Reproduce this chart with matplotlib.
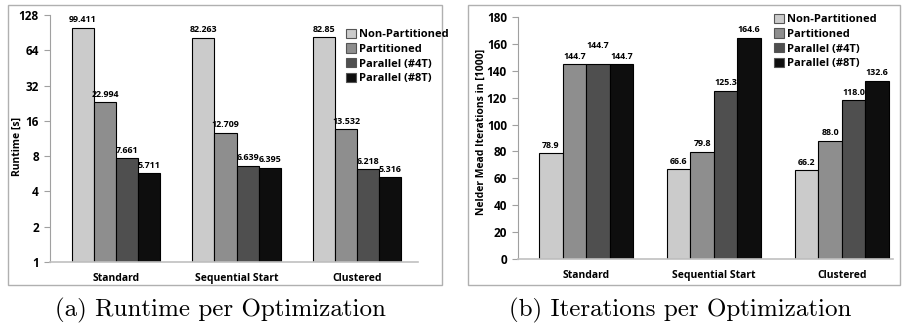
import matplotlib
matplotlib.use("Agg")
import matplotlib.pyplot as plt
from matplotlib.patches import Rectangle, Patch
import numpy as np

categories = ["Standard", "Sequential Start", "Clustered"]
series = ["Non-Partitioned", "Partitioned", "Parallel (#4T)", "Parallel (#8T)"]
runtime = [
    [99.411, 82.263, 82.85],
    [22.994, 12.709, 13.532],
    [7.661, 6.639, 6.218],
    [5.711, 6.395, 5.316],
]
runtime_labels = [
    ["99.411", "82.263", "82.85"],
    ["22.994", "12.709", "13.532"],
    ["7.661", "6.639", "6.218"],
    ["5.711", "6.395", "5.316"],
]
iterations = [
    [78.9, 66.6, 66.2],
    [144.7, 79.8, 88.0],
    [144.7, 125.3, 118.0],
    [144.7, 164.6, 132.6],
]
runtime_ticks = [1, 2, 4, 8, 16, 32, 64, 128]
iter_ticks = [0, 20, 40, 60, 80, 100, 120, 140, 160, 180]
colors = ["#cbcbcb", "#8e8e8e", "#4f4f4f", "#0e0e0e"]

plt.rcParams['font.family'] = ['Open Sans', 'DejaVu Sans']
plt.rcParams['font.weight'] = 'bold'

W, H = 903, 323
fig = plt.figure(figsize=(W / 100, H / 100), dpi=100)

def ax_rect(x0, x1, ytop, ybot):
    return [x0 / W, 1 - ybot / H, (x1 - x0) / W, (ybot - ytop) / H]

# panel boxes
for (x0, y0, x1, y1) in [(8, 5, 442, 285), (468, 5, 900, 285)]:
    fig.patches.append(Rectangle((x0 / W, 1 - y1 / H), (x1 - x0) / W, (y1 - y0) / H,
                                 transform=fig.transFigure, fill=False,
                                 edgecolor="#b0b0b0", linewidth=1.0))

bw = 0.184
x = np.arange(len(categories))

def style(ax):
    for s in ["top", "right"]:
        ax.spines[s].set_visible(False)
    ax.spines["left"].set_color("#a0a0a0")
    ax.spines["bottom"].set_color("#c0c0c0")
    ax.spines["bottom"].set_linewidth(1.2)
    ax.tick_params(axis="x", length=0, pad=8, labelsize=7.5)
    ax.tick_params(axis="y", length=4, color="#a0a0a0", labelsize=8.5, pad=4, direction="out")
    for t in ax.get_xticklabels() + ax.get_yticklabels():
        t.set_fontweight("bold")

# Left panel
ax1 = fig.add_axes(ax_rect(50, 418, 15, 262))
for i in range(4):
    xs = x + (i - 1.5) * bw
    ax1.bar(xs, np.array(runtime[i]) - 1, bw, bottom=1, color=colors[i],
            edgecolor="black", linewidth=0.8, label=series[i])
    for j in range(3):
        ax1.text(xs[j], runtime[i][j] * 1.07, runtime_labels[i][j], ha="center", va="bottom",
                 fontsize=6.4, fontweight="bold")
ax1.set_yscale("log", base=2)
ax1.set_ylim(1, 128)
ax1.set_yticks(runtime_ticks)
ax1.set_yticklabels([str(t) for t in runtime_ticks])
ax1.minorticks_off()
ax1.set_xlim(-0.548, 2.506)
ax1.set_xticks(x)
ax1.set_xticklabels(categories)
ax1.set_ylabel("Runtime [s]", fontsize=7.5, fontweight="bold")
ax1.yaxis.set_label_coords(-0.073, 0.466)
style(ax1)
handles = [Patch(facecolor=c, edgecolor="#555555", linewidth=0.8) for c in colors]
fig.legend(handles, series, loc="upper left", bbox_to_anchor=(340 / W, 1 - 23 / H),
           frameon=False, handlelength=0.9, handleheight=0.9,
           handletextpad=0.3, labelspacing=0.3, borderpad=0, prop={"weight": "bold", "size": 8})

# Right panel
ax2 = fig.add_axes(ax_rect(518, 893, 17, 259))
for i in range(4):
    xs = x + (i - 1.5) * bw
    ax2.bar(xs, iterations[i], bw, color=colors[i], edgecolor="black", linewidth=0.8,
            label=series[i])
    for j in range(3):
        yoff = 11 if (i == 2 and j == 0) else 2.5
        ax2.text(xs[j], iterations[i][j] + yoff, f"{iterations[i][j]:.1f}", ha="center",
                 va="bottom", fontsize=6.4, fontweight="bold")
ax2.set_ylim(0, 180)
ax2.set_yticks(iter_ticks)
ax2.set_yticklabels([str(t) for t in iter_ticks])
ax2.set_xlim(-0.532, 2.40)
ax2.set_xticks(x)
ax2.set_xticklabels(categories)
ax2.set_ylabel("Nelder Mead Iterations in [1000]", fontsize=7.5, fontweight="bold")
ax2.yaxis.set_label_coords(-0.083, 0.525)
style(ax2)
fig.legend(handles, series, loc="upper left", bbox_to_anchor=(768 / W, 1 - 8 / H),
           frameon=False, handlelength=0.9, handleheight=0.9,
           handletextpad=0.3, labelspacing=0.3, borderpad=0, prop={"weight": "bold", "size": 8})

# Captions
fig.text(220 / W, 1 - 310 / H, "(a) Runtime per Optimization", ha="center", va="center",
         fontsize=18, family=["cmr10", "DejaVu Serif"], fontweight="normal")
fig.text(680 / W, 1 - 310 / H, "(b) Iterations per Optimization", ha="center", va="center",
         fontsize=18, family=["cmr10", "DejaVu Serif"], fontweight="normal")

fig.savefig("out.png", dpi=100)
